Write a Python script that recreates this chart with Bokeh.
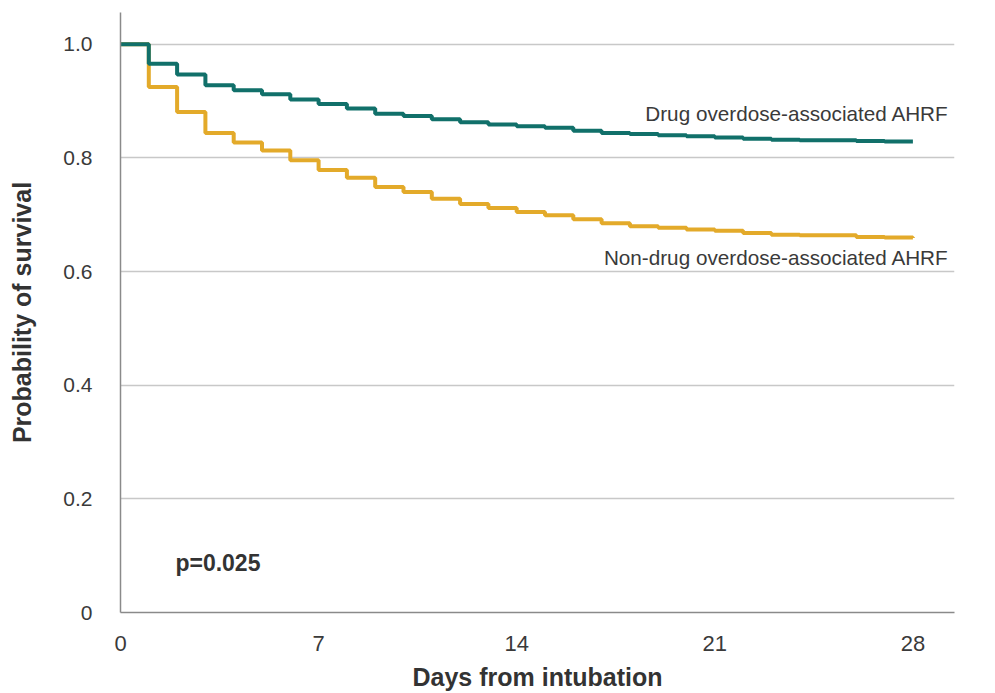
from bokeh.plotting import figure
from bokeh.models import Range1d, FixedTicker, Label
from bokeh.embed import file_html
from bokeh.resources import INLINE

days = [0, 1, 2, 3, 4, 5, 6, 7, 8, 9, 10, 11, 12, 13, 14, 15, 16, 17, 18, 19, 20,
        21, 22, 23, 24, 25, 26, 27, 28]
drug = [1.0, 0.966, 0.947, 0.928, 0.919, 0.912, 0.903, 0.895, 0.887, 0.878, 0.874,
        0.868, 0.863, 0.859, 0.856, 0.853, 0.848, 0.844, 0.842, 0.840, 0.838,
        0.836, 0.834, 0.832, 0.831, 0.831, 0.830, 0.829, 0.829]
nondrug = [1.0, 0.925, 0.881, 0.844, 0.827, 0.813, 0.796, 0.779, 0.765, 0.749, 0.740,
           0.728, 0.719, 0.712, 0.705, 0.699, 0.692, 0.685, 0.680, 0.677, 0.674,
           0.672, 0.668, 0.665, 0.664, 0.664, 0.661, 0.660, 0.659]
x_ticks = [0, 7, 14, 21, 28]
y_ticks = [0, 0.2, 0.4, 0.6, 0.8, 1.0]
y_tick_labels = {0: "0", 0.2: "0.2", 0.4: "0.4", 0.6: "0.6", 0.8: "0.8", 1.0: "1.0"}

TEAL = "#11706A"
GOLD = "#E3AA2A"
FONT = "Liberation Sans"

p = figure(width=975, height=693, output_backend="svg", toolbar_location=None,
           x_range=Range1d(0, 29.47), y_range=Range1d(0, 1.056),
           min_border_left=120, min_border_right=21, min_border_top=12,
           min_border_bottom=80)
p.outline_line_color = None
p.background_fill_color = "white"

p.xgrid.grid_line_color = None
p.ygrid.grid_line_color = "#c8c8c8"
p.ygrid.grid_line_width = 1.5
p.ygrid.ticker = FixedTicker(ticks=y_ticks)

p.xaxis.ticker = FixedTicker(ticks=x_ticks)
p.yaxis.ticker = FixedTicker(ticks=y_ticks)
p.yaxis.major_label_overrides = y_tick_labels
for ax in (p.xaxis, p.yaxis):
    ax.axis_line_color = "#8a8a8a"
    ax.axis_line_width = 1.5
    ax.major_tick_line_color = None
    ax.minor_tick_line_color = None
    ax.major_label_text_font = FONT
    ax.major_label_text_font_size = "21px"
    ax.major_label_text_color = "#3a3a3a"
    ax.axis_label_text_font = FONT
    ax.axis_label_text_font_style = "bold"
    ax.axis_label_text_font_size = "25px"
    ax.axis_label_text_color = "#333333"
p.xaxis.major_label_text_font_size = "22px"
p.xaxis.major_label_standoff = 17
p.yaxis.major_label_standoff = 22
p.xaxis.axis_label = "Days from intubation"
p.yaxis.axis_label = "Probability of survival"
p.xaxis.axis_label_standoff = 9
p.yaxis.axis_label_standoff = 24

p.step(days, nondrug, mode="after", line_color=GOLD, line_width=4)
p.step(days, drug, mode="after", line_color=TEAL, line_width=4)

p.add_layout(Label(x=29.27, y=0.879, text="Drug overdose-associated AHRF",
                   text_align="right", text_baseline="middle", text_font=FONT,
                   text_font_size="20.7px", text_color="#3a3a3a"))
p.add_layout(Label(x=29.27, y=0.624, text="Non-drug overdose-associated AHRF",
                   text_align="right", text_baseline="middle", text_font=FONT,
                   text_font_size="20.7px", text_color="#3a3a3a"))
p.add_layout(Label(x=1.94, y=0.088, text="p=0.025", text_align="left",
                   text_baseline="middle", text_font=FONT, text_font_style="bold",
                   text_font_size="23px", text_color="#333333"))

open("out.html", "w").write(file_html(p, INLINE))
